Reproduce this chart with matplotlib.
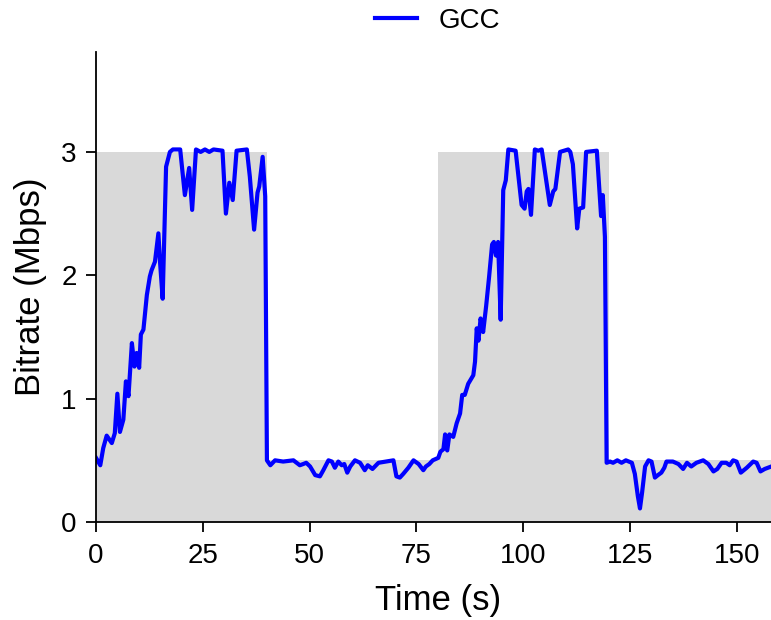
import numpy as np
import matplotlib.pyplot as plt

plt.rcParams['font.family'] = ['Liberation Sans', 'DejaVu Sans']

# link capacity (Mbps), step changes every 40 s
cap_t = [0, 40, 80, 120, 160]
cap_v = [3.0, 0.5, 3.0, 0.5, 0.5]

# GCC bitrate trace
gcc_t = [0, 1, 1.7, 2.5, 3.7, 4.4, 5.0, 5.6, 6.4, 7.0, 7.6, 8.4, 9.0, 9.5, 10.1,
         10.5, 11.1, 11.9, 12.6, 13.0, 13.8, 14.6, 15.0, 15.6, 16.4, 17.3, 18.0,
         19.7, 20.8, 21.8, 22.5, 23.4, 24.5, 25.5, 26.5, 27.5, 29.6, 30.4, 31.2,
         32.0, 32.9, 35.3, 36.0, 37.0, 37.8, 38.2, 39.0, 39.6, 40.0, 40.8, 41.9,
         43.8, 46.2, 47.7, 48.5, 49.2, 50.1, 51.3, 52.4, 53.2, 54.4, 55.2, 55.9,
         56.7, 57.5, 58.1, 58.8, 59.5, 60.6, 61.8, 62.9, 63.6, 64.7, 66.1, 67.8,
         69.6, 70.3, 71.1, 71.9, 73.1, 74.3, 75.5, 76.6, 77.2, 78.0, 78.8, 80.1,
         80.6, 81.3, 81.7, 82.2, 82.7, 83.6, 84.4, 85.2, 85.7, 86.3, 87.1, 88.3,
         88.7, 89.1, 89.5, 90.0, 90.6, 91.3, 92.0, 92.7, 93.1, 93.6, 94.1, 94.7,
         95.3, 95.9, 96.5, 98.2, 99.6, 100.3, 100.8, 101.2, 101.8, 102.7, 103.5,
         104.3, 106.2, 107.0, 107.5, 108.6, 110.5, 111.0, 111.6, 112.6, 113.1,
         114.0, 114.7, 117.2, 117.9, 118.2, 118.6, 119.1, 119.5, 120.3, 121.0,
         122.0, 123.0, 124.0, 125.4, 126.1, 126.8, 127.3, 127.8, 128.5, 129.3,
         130.0, 130.8, 131.5, 132.3, 133.0, 133.5, 135.0, 136.3, 137.4, 138.3,
         139.3, 140.5, 142.1, 143.3, 144.5, 145.4, 146.4, 147.5, 148.3, 149.1,
         149.9, 150.9, 152.3, 153.8, 154.6, 155.5, 156.5, 158.0, 160.0]
gcc_v = [0.52, 0.46, 0.60, 0.70, 0.64, 0.72, 1.04, 0.73, 0.83, 1.14, 1.02, 1.45,
         1.26, 1.37, 1.25, 1.52, 1.56, 1.84, 1.99, 2.04, 2.11, 2.34, 2.10, 1.81,
         2.88, 3.00, 3.02, 3.02, 2.65, 2.87, 2.53, 3.02, 3.00, 3.02, 3.00, 3.02,
         3.01, 2.50, 2.75, 2.61, 3.01, 3.02, 2.80, 2.37, 2.67, 2.72, 2.96, 2.64,
         0.50, 0.46, 0.50, 0.49, 0.50, 0.46, 0.47, 0.48, 0.45, 0.38, 0.37, 0.42,
         0.50, 0.49, 0.44, 0.49, 0.46, 0.47, 0.40, 0.45, 0.50, 0.48, 0.42, 0.46,
         0.43, 0.48, 0.49, 0.50, 0.37, 0.36, 0.39, 0.44, 0.50, 0.47, 0.42, 0.45,
         0.47, 0.50, 0.52, 0.57, 0.59, 0.71, 0.58, 0.71, 0.69, 0.80, 0.88, 1.03,
         1.03, 1.12, 1.19, 1.30, 1.57, 1.47, 1.65, 1.54, 1.75, 1.99, 2.25, 2.27,
         2.16, 2.27, 1.64, 2.69, 2.77, 3.02, 3.01, 2.57, 2.54, 2.68, 2.70, 2.49,
         3.02, 3.01, 3.02, 2.57, 2.68, 2.70, 3.00, 3.02, 3.00, 2.90, 2.38, 2.54,
         2.55, 3.00, 3.01, 2.64, 2.48, 2.65, 2.31, 0.48, 0.49, 0.48, 0.50, 0.48,
         0.50, 0.48, 0.39, 0.21, 0.11, 0.24, 0.45, 0.50, 0.49, 0.36, 0.38, 0.40,
         0.44, 0.49, 0.49, 0.47, 0.43, 0.48, 0.45, 0.48, 0.50, 0.47, 0.41, 0.43,
         0.48, 0.48, 0.46, 0.50, 0.49, 0.40, 0.44, 0.49, 0.48, 0.41, 0.43, 0.45,
         0.47]

fig = plt.figure(figsize=(7.71, 6.2), dpi=100)
ax = fig.add_axes([96 / 771, 98 / 620, 683.7 / 771, 470 / 620])

ax.fill_between(cap_t, cap_v, step='post', color='#d9d9d9', lw=0)
ax.plot(gcc_t, gcc_v, color='blue', lw=3, label='GCC')

ax.set_xlim(0, 160)
ax.set_ylim(0, 3.81)
ax.set_xticks([0, 25, 50, 75, 100, 125, 150])
ax.set_yticks([0, 1, 2, 3])
ax.tick_params(labelsize=20, length=7, width=1.3)
ax.tick_params(axis='x', pad=8)
ax.tick_params(axis='y', pad=7)
ax.set_xlabel('Time (s)', fontsize=25, labelpad=11)
ax.set_ylabel('Bitrate (Mbps)', fontsize=25, labelpad=10)
for s in ['top', 'right']:
    ax.spines[s].set_visible(False)
for s in ['left', 'bottom']:
    ax.spines[s].set_linewidth(1.3)

ax.legend(loc='lower center', bbox_to_anchor=(0.5, 0.985), frameon=False,
          fontsize=20, handlelength=1.5)

fig.savefig('out.png', dpi=100)
